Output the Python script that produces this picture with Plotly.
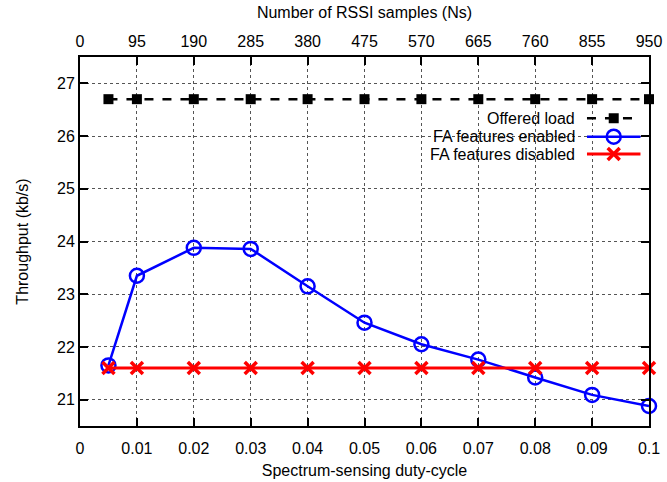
import plotly.graph_objects as go

duty = [0.005, 0.01, 0.02, 0.03, 0.04, 0.05, 0.06, 0.07, 0.08, 0.09, 0.1]
offered = [26.7] * 11
fa_enabled = [21.65, 23.35, 23.88, 23.86, 23.15, 22.46, 22.05, 21.76, 21.42, 21.09, 20.88]
fa_disabled = [21.6] * 11
bottom_ticks = [0, 0.01, 0.02, 0.03, 0.04, 0.05, 0.06, 0.07, 0.08, 0.09, 0.1]
bottom_labels = ["0", "0.01", "0.02", "0.03", "0.04", "0.05", "0.06", "0.07", "0.08", "0.09", "0.1"]
top_ticks = [0, 95, 190, 285, 380, 475, 570, 665, 760, 855, 950]
legend_names = ["Offered load", "FA features enabled", "FA features disabled"]

FONT = "Liberation Sans, Arial, sans-serif"
FS = 16

styles = [
    dict(line=dict(color="black", width=2.5, dash="dash"),
         marker=dict(symbol="square", size=10, color="black")),
    dict(line=dict(color="#0000ff", width=2.5),
         marker=dict(symbol="circle-open", size=14, color="#0000ff", line=dict(width=2.5))),
    dict(line=dict(color="#ff0000", width=3),
         marker=dict(symbol="x-thin-open", size=12, color="#ff0000", line=dict(width=3.5))),
]

fig = go.Figure()
for name, ys, st in zip(legend_names, [offered, fa_enabled, fa_disabled], styles):
    fig.add_trace(go.Scatter(x=duty, y=ys, mode="lines+markers", name=name,
                             showlegend=False, cliponaxis=False, **st))

# custom gnuplot-style legend (text left, sample right) on a hidden overlay axis
leg_y = [0.834, 0.784, 0.737]
for name, yy, st in zip(legend_names, leg_y, styles):
    fig.add_trace(go.Scatter(x=[0.891, 0.938, 0.985], y=[yy] * 3, mode="lines",
                             line=st["line"], xaxis="x3", yaxis="y3", showlegend=False,
                             hoverinfo="skip"))
    fig.add_trace(go.Scatter(x=[0.938], y=[yy], mode="markers", marker=st["marker"],
                             xaxis="x3", yaxis="y3", showlegend=False, hoverinfo="skip"))
    fig.add_annotation(x=0.874, y=yy, xref="x3", yref="y3", text=name, showarrow=False,
                       xanchor="right", yanchor="middle",
                       font=dict(family=FONT, size=FS, color="black"))

axis_common = dict(showline=True, linecolor="black", linewidth=2, ticks="inside",
                   ticklen=8, tickwidth=1.5, tickcolor="black",
                   tickfont=dict(family=FONT, size=FS, color="black"),
                   zeroline=False, automargin=False)

fig.update_layout(
    width=667, height=482,
    margin=dict(l=80, r=18, t=57, b=56),
    paper_bgcolor="white", plot_bgcolor="white",
    font=dict(family=FONT, size=FS, color="black"),
    xaxis=dict(range=[0, 0.1], tickvals=bottom_ticks, ticktext=bottom_labels,
               mirror=True, showgrid=True, gridcolor="#555", griddash="dot", gridwidth=1,
               ticklabelstandoff=7,
               title=dict(text="Spectrum-sensing duty-cycle", standoff=9,
                          font=dict(family=FONT, size=FS)),
               **axis_common),
    xaxis2=dict(range=[0, 950], tickvals=top_ticks, overlaying="x", side="top",
                showgrid=False, ticklabelstandoff=2,
                title=dict(text="Number of RSSI samples (Ns)", standoff=10,
                           font=dict(family=FONT, size=FS)),
                **axis_common),
    yaxis=dict(range=[20.5, 27.5], dtick=1, tick0=21, mirror="ticks",
               showgrid=True, gridcolor="#555", griddash="dot", gridwidth=1,
               title=dict(text="Throughput (kb/s)", standoff=24,
                          font=dict(family=FONT, size=FS)),
               **axis_common),
    xaxis3=dict(range=[0, 1], overlaying="x", visible=False, fixedrange=True),
    yaxis3=dict(range=[0, 1], overlaying="y", visible=False, fixedrange=True),
    showlegend=False,
)
# dummy trace so top axis renders
fig.add_trace(go.Scatter(x=[0, 950], y=[None, None], xaxis="x2", showlegend=False,
                         hoverinfo="skip"))

fig.write_html("out.html")
